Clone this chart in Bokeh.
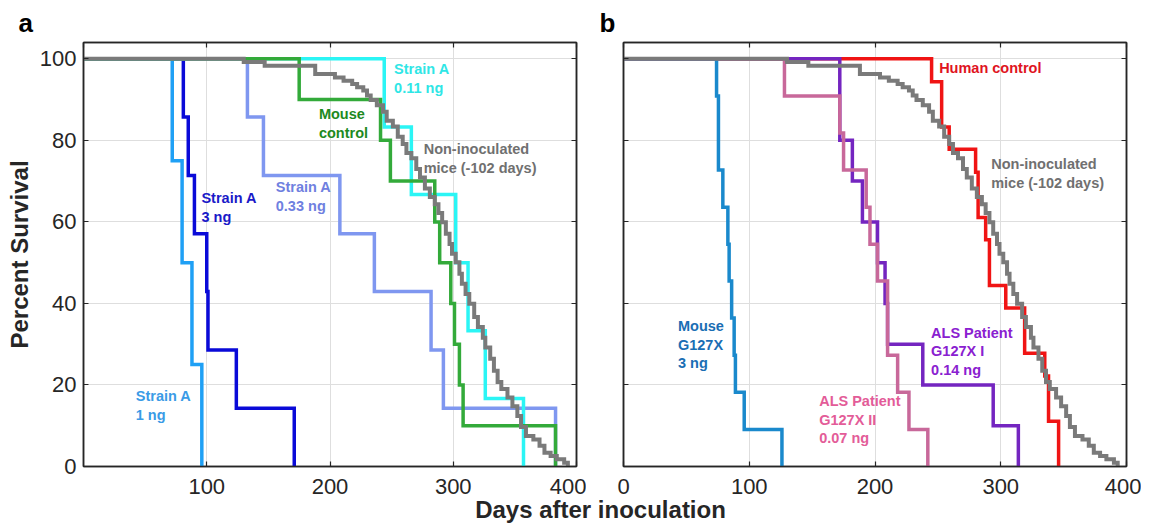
from bokeh.plotting import figure
from bokeh.models import FixedTicker, LinearAxis, Range1d, CustomLabelingPolicy
from bokeh.layouts import column, row
from bokeh.core.properties import value
from bokeh.embed import file_html
from bokeh.resources import INLINE

# ---------------- data (Kaplan-Meier drop times and survival after each drop) ----------------
# Panel a
a1_t = [72, 80, 88, 96]
a1_s = [75, 50, 25, 0]
a3_t = [81, 85, 90, 100, 101, 124, 171]
a3_s = [85.7, 71.4, 57.1, 42.9, 28.6, 14.3, 0]
a033_t = [133, 146, 208, 236, 282, 292, 383]
a033_s = [85.7, 71.4, 57.1, 42.9, 28.6, 14.3, 0]
a011_t = [244, 266, 302, 312, 326, 357]
a011_s = [83.3, 66.7, 50, 33.3, 16.7, 0]
mc_t = [175, 241, 249, 285, 289, 298, 301, 305, 308, 383]
mc_s = [90, 80, 70, 60, 50, 40, 30, 20, 10, 0]
# Non-inoculated mice (both panels)
ni_t = [130, 147, 188, 204, 211, 218, 222, 227, 230, 233, 238, 243, 246, 251, 255, 259, 262, 266,
        270, 273, 277, 281, 285, 288, 291, 294, 297, 299, 302, 305, 307, 310, 313, 317, 320, 324,
        326, 330, 333, 336, 339, 344, 348, 352, 355, 359, 365, 370, 374, 379, 384, 390, 393]
ni_s = [99.2, 98.3, 96.3, 95.4, 94.6, 93.8, 93.0, 92.2, 91.0, 89.9, 88.6, 87.0, 84.8, 83.4, 80.9,
        79.1, 76.9, 75.6, 73.0, 70.9, 68.2, 66.1, 64.3, 62.2, 59.9, 57.1, 54.6, 52.2, 50.1, 47.3,
        44.8, 42.3, 39.9, 36.7, 34.2, 31.6, 29.2, 26.4, 23.5, 20.7, 19.0, 16.9, 14.8, 12.4, 9.7,
        7.5, 6.6, 5.1, 3.4, 2.6, 1.8, 0.9, 0.0]
# Panel b
g_t = [74, 75.5, 79, 83, 84, 86, 88, 89, 96, 126]
g_s = [90.9, 72.7, 63.6, 54.5, 45.5, 36.4, 27.3, 18.2, 9.1, 0]
als2_t = [128, 172, 175, 193, 196, 202, 210, 218, 227, 242]
als2_s = [90.9, 81.8, 72.7, 63.6, 54.5, 45.5, 27.3, 18.2, 9.1, 0]
als1_t = [172, 182, 190, 202, 208, 210, 238, 294, 314]
als1_s = [80, 70, 60, 50, 40, 30, 20, 10, 0]
hc_t = [245, 253, 259, 280, 282, 288, 291, 304, 319, 335, 338, 346]
hc_s = [94.4, 83.3, 77.8, 72.2, 61.1, 55.6, 44.4, 38.9, 27.8, 22.2, 11.1, 0]

x_ticks = [0, 100, 200, 300, 400]
x_ticks_a = [100, 200, 300, 400]
y_ticks = [0, 20, 40, 60, 80, 100]

FONT = "Liberation Sans"
FRAME = "#262626"

HIDE_LABELS = ("try { for (let i = 0; i < indices.size; i++) { indices.unset(i) } } "
               "catch (e) {} return indices")


def km(t, s):
    return [0] + list(t), [100] + list(s)


def hide_labels(ax):
    ax.major_label_text_font_size = "0px"
    ax.major_label_standoff = 0
    ax.major_label_policy = CustomLabelingPolicy(code=HIDE_LABELS)


def panel(letter, letter_offset, min_left, frame_w, min_right, show_ylab, xt):
    p = figure(frame_width=frame_w, frame_height=424,
               x_range=Range1d(0, 400), y_range=Range1d(0, 104),
               output_backend="svg", toolbar_location=None,
               min_border_left=min_left, min_border_right=min_right,
               min_border_top=42, min_border_bottom=42,
               background_fill_color="white", border_fill_color="white")
    p.outline_line_color = FRAME
    p.outline_line_width = 1.5
    p.title.text = letter
    p.title.text_font = FONT
    p.title.text_font_size = "26px"
    p.title.text_font_style = "bold"
    p.title.text_color = "black"
    p.title.align = "left"
    p.title.offset = letter_offset
    p.title.standoff = 10

    for ax in [p.xaxis[0], p.yaxis[0]]:
        ax.major_tick_in = 5
        ax.major_tick_out = 0
        ax.minor_tick_line_color = None
        ax.axis_line_color = FRAME
        ax.axis_line_width = 1.5
        ax.major_tick_line_color = FRAME
        ax.major_tick_line_width = 1.2
        ax.major_label_text_font = FONT
        ax.major_label_text_font_size = "22px"
        ax.major_label_text_color = "#262626"
    p.xaxis[0].ticker = FixedTicker(ticks=xt)
    p.yaxis[0].ticker = FixedTicker(ticks=y_ticks)
    p.xaxis[0].major_label_standoff = 12
    p.yaxis[0].major_label_standoff = 7

    for loc, tk in [("right", y_ticks), ("above", x_ticks)]:
        ax = LinearAxis(ticker=FixedTicker(ticks=tk), major_tick_in=5, major_tick_out=0,
                        minor_tick_line_color=None, axis_line_color=FRAME, axis_line_width=1.5,
                        major_tick_line_color=FRAME, major_tick_line_width=1.2)
        hide_labels(ax)
        p.add_layout(ax, loc)

    p.xgrid.ticker = FixedTicker(ticks=x_ticks)
    p.ygrid.ticker = FixedTicker(ticks=y_ticks)
    p.xgrid.grid_line_color = "#DEDEDE"
    p.ygrid.grid_line_color = "#DEDEDE"

    if show_ylab:
        p.yaxis[0].axis_label = "Percent Survival"
        p.yaxis[0].axis_label_text_font = FONT
        p.yaxis[0].axis_label_text_font_size = "24px"
        p.yaxis[0].axis_label_text_font_style = "bold"
        p.yaxis[0].axis_label_text_color = "#262626"
        p.yaxis[0].axis_label_standoff = 4
    else:
        hide_labels(p.yaxis[0])
    return p


def curve(p, t, s, color, width=3.5):
    x, y = km(t, s)
    p.step(x, y, mode="after", line_color=color, line_width=width, line_join="miter")


def note(p, txt, x, y, color):
    p.text(x=[x], y=[y], text=[txt], text_font=value(FONT), text_font_size="14.5px",
           text_font_style="bold", text_color=color, text_align="left",
           text_baseline="top", text_line_height=1.18)


# ---------------- panel a ----------------
pa = panel("a", -65, 83, 493, 10, True, x_ticks_a)
curve(pa, a1_t, a1_s, "#1FA0F5")
curve(pa, a3_t, a3_s, "#0A0AD8")
curve(pa, a033_t, a033_s, "#7F97F0")
curve(pa, a011_t, a011_s, "#2BF5F5")
curve(pa, mc_t, mc_s, "#33AA3A")
curve(pa, ni_t, ni_s, "#7A7A7A", 4)
note(pa, "Strain A\n0.11 ng", 252, 99.4, "#2FE6E6")
note(pa, "Mouse\ncontrol", 191, 88.4, "#1E8A1E")
note(pa, "Non-inoculated\nmice (-102 days)", 276, 79.8, "#707070")
note(pa, "Strain A\n3 ng", 95.7, 67.9, "#1A1AC8")
note(pa, "Strain A\n0.33 ng", 156, 70.4, "#6F80E0")
note(pa, "Strain A\n1 ng", 42.4, 19.3, "#3A9BE6")

# ---------------- panel b ----------------
pb = panel("b", -24, 37, 503, 15, False, x_ticks)
curve(pb, hc_t, hc_s, "#F01414")
curve(pb, als1_t, als1_s, "#7425C0")
curve(pb, als2_t, als2_s, "#C8689A")
curve(pb, g_t, g_s, "#1A89CC")
curve(pb, ni_t, ni_s, "#7A7A7A", 4)
note(pb, "Human control", 251, 99.8, "#E0141E")
note(pb, "Non-inoculated\nmice (-102 days)", 292.4, 76.1, "#707070")
note(pb, "ALS Patient\nG127X I\n0.14 ng", 244.6, 34.8, "#8A20D0")
note(pb, "ALS Patient\nG127X II\n0.07 ng", 155.6, 18.1, "#E35C98")
note(pb, "Mouse\nG127X\n3 ng", 43.3, 36.5, "#1A6EB4")

# ---------------- shared x label (overlaps the bottom border of the panels) ----------------
TOTAL_W = 586 + 555
LAB_H = 36
pl = figure(width=TOTAL_W, height=LAB_H, x_range=Range1d(0, TOTAL_W), y_range=Range1d(0, LAB_H),
            output_backend="svg", toolbar_location=None, min_border=0,
            background_fill_color=None, border_fill_color=None, margin=(-19, 0, 0, 0))
pl.axis.visible = False
pl.grid.visible = False
pl.outline_line_color = None
pl.text(x=[600], y=[16], text=["Days after inoculation"], text_font=value(FONT),
        text_font_size="24px", text_font_style="bold", text_color="#262626",
        text_align="center", text_baseline="middle")

layout = column(row(pa, pb), pl)
open("out.html", "w").write(file_html(layout, INLINE))
